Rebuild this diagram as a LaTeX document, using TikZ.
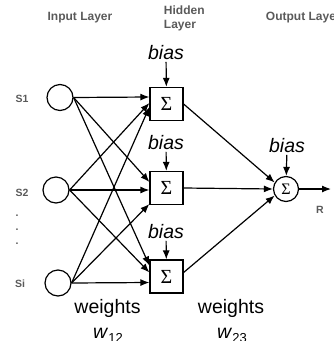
\documentclass[tikz,border=0pt]{standalone}
\usepackage{fontspec}
\setsansfont{Liberation Sans}
\newfontfamily\sigmafont{Liberation Serif}
\usetikzlibrary{arrows.meta}
\definecolor{labelgray}{RGB}{90,90,90}

\begin{document}
\begin{tikzpicture}[x=1pt,y=-1pt,line width=1.2pt,
  neuron/.style={draw,circle,minimum size=26pt,inner sep=0pt},
  sumbox/.style={draw,minimum size=33pt,inner sep=0pt,font=\sigmafont\fontsize{20}{20}\selectfont},
  layertext/.style={font=\sffamily\bfseries\fontsize{12}{14}\selectfont,text=labelgray},
  inlabel/.style={font=\sffamily\bfseries\fontsize{10.5}{10.5}\selectfont,text=labelgray},
  biastext/.style={font=\sffamily\itshape\fontsize{19.5}{20}\selectfont,inner sep=1pt},
  wtext/.style={font=\sffamily\fontsize{19.5}{20}\selectfont,anchor=base},
  link/.style={-{Latex[length=9pt,width=7pt]}}]
\useasboundingbox (0,0) rectangle (334,341);
% layer titles
\node[layertext] (inhead) at (80,18) {Input Layer};
\node[layertext,anchor=west,align=left] (hidhead) at (160,18) {Hidden\\Layer};
\node[layertext,anchor=west] (outhead) at (262,18) {Output Layer};
% input layer
\node[neuron] (s1) at (60,97.5) {};
\node[neuron] (s2) at (56,190) {};
\node[neuron] (si) at (58,283) {};
\node[inlabel] (s1lab) at (22,99) {S1};
\node[inlabel] (s2lab) at (22,193) {S2};
\node[inlabel] (silab) at (20,284) {Si};
\foreach \y in {216,230,244}
  \node[inlabel] (dot\y) at (17,\y) {.};
% hidden layer
\node[sumbox] (h1) at (166.5,104) {Σ};
\node[sumbox] (h2) at (166.5,188) {Σ};
\node[sumbox] (h3) at (166.5,276.5) {Σ};
\node[biastext] (b1) at (166,53) {bias};
\node[biastext] (b2) at (166,143) {bias};
\node[biastext] (b3) at (166,232) {bias};
\draw[link] (b1) -- (h1);
\draw[link] (b2) -- (h2);
\draw[link] (b3) -- (h3);
% output layer
\node[neuron,minimum size=25pt,font=\sigmafont\fontsize{16}{16}\selectfont] (out) at (286,189) {Σ};
\node[biastext] (bo) at (287,146) {bias};
\draw[link] (bo) -- (out);
\coordinate (r) at (331,189);
\draw[link] (out) -- (r);
\node[inlabel] (rlab) at (320,210) {R};
% input to hidden
\draw[link] (s1.east) -- ([yshift=7pt]h1.west);
\draw[link] (s2.east) -- ([yshift=1pt]h1.west);
\draw[link] (si.east) -- ([yshift=-3pt]h1.west);
\draw[link] (s1.east) -- ([yshift=6pt]h2.west);
\draw[link] (s2.east) -- ([yshift=-2pt]h2.west);
\draw[link] (si.east) -- ([yshift=-16pt]h2.west);
\draw[link] (s1.east) -- ([yshift=11pt]h3.west);
\draw[link] (s2.east) -- ([yshift=4pt]h3.west);
\draw[link] (si.east) -- ([yshift=-6pt]h3.west);
% hidden to output
\draw[link] (h1.east) -- (out.150);
\draw[link] (h2.east) -- (out.west);
\draw[link] ([yshift=4pt]h3.east) -- (out.210);
% weights
\node[wtext] (wlab1) at (107.5,313) {weights};
\node[wtext] (wlab2) at (231,313) {weights};
\node[wtext] (w12) at (108,338) {\itshape w\/\raisebox{-4pt}{\upshape\fontsize{13}{13}\selectfont 12}};
\node[wtext] (w23) at (232,338) {\itshape w\/\raisebox{-4pt}{\upshape\fontsize{13}{13}\selectfont 23}};
\end{tikzpicture}
\end{document}
